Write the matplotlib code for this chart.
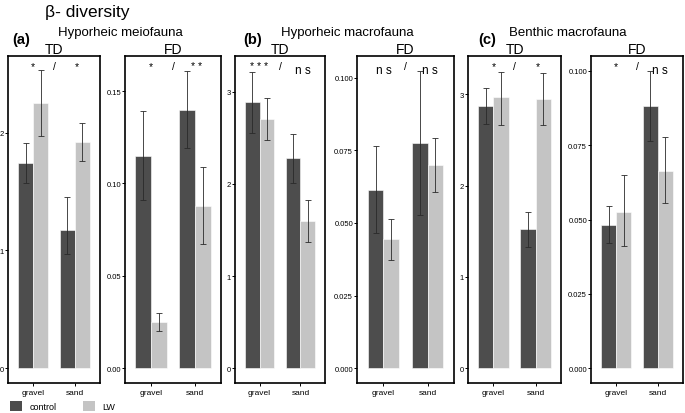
import numpy as np
import matplotlib
matplotlib.use('Agg')
import matplotlib.pyplot as plt
from matplotlib.patches import Patch
from matplotlib.ticker import FormatStrFormatter

plt.rcParams['font.family'] = ['Liberation Sans', 'DejaVu Sans']

habitats = ['gravel', 'sand']
panel_titles = ['TD', 'FD', 'TD', 'FD', 'TD', 'FD']
group_labels = ['(a)', '(b)', '(c)']
group_names = ['Hyporheic meiofauna', 'Hyporheic macrofauna', 'Benthic macrofauna']

# per panel: [gravel, sand]
control_mean = [[1.74, 1.17], [0.115, 0.140], [2.89, 2.28],
                [0.0612, 0.0775], [2.87, 1.52], [0.048, 0.0882]]
control_lo = [[1.57, 0.97], [0.091, 0.119], [2.55, 2.01],
              [0.0467, 0.0529], [2.68, 1.33], [0.0422, 0.0764]]
control_hi = [[1.91, 1.45], [0.139, 0.161], [3.22, 2.54],
              [0.0764, 0.1024], [3.07, 1.71], [0.0544, 0.100]]
lw_mean = [[2.25, 1.92], [0.025, 0.088], [2.71, 1.60],
           [0.0446, 0.0698], [2.97, 2.95], [0.0525, 0.0662]]
lw_lo = [[1.97, 1.76], [0.020, 0.067], [2.48, 1.37],
         [0.0373, 0.0605], [2.66, 2.66], [0.041, 0.0554]]
lw_hi = [[2.53, 2.08], [0.030, 0.109], [2.93, 1.83],
         [0.0515, 0.0792], [3.25, 3.23], [0.065, 0.0777]]

signif = [['*', '/', '*'], ['*', '/', '* *'], ['* * *', '/', 'n s'],
          ['n s', '/', 'n s'], ['*', '/', '*'], ['*', '/', 'n s']]

yticks = [[0, 1, 2], [0, 0.05, 0.10, 0.15], [0, 1, 2, 3],
          [0, 0.025, 0.05, 0.075, 0.1], [0, 1, 2, 3],
          [0, 0.025, 0.05, 0.075, 0.1]]
ytick_fmt = ['%d', '%.2f', '%d', '%.3f', '%d', '%.3f']
ytops = [2.65, 0.169, 3.39, 0.1075, 3.42, 0.105]

dark = '#4d4d4d'
light = '#c4c4c4'

W, H = 685, 414
fig = plt.figure(figsize=(W / 100, H / 100), dpi=100)

# pixel boxes (left, right) of the six panels
lefts = [8, 125, 235, 357, 468, 591]
rights = [100, 221, 325, 454, 561, 683]
top_px, bot_px = 57, 384

x = np.arange(1, len(habitats) + 1)
bw = 0.36

for i in range(6):
    ax = fig.add_axes([lefts[i] / W, (H - bot_px) / H,
                       (rights[i] - lefts[i]) / W, (bot_px - top_px) / H])
    ax.bar(x - bw / 2, control_mean[i], bw, color=dark, edgecolor='white', linewidth=0.4)
    ax.bar(x + bw / 2, lw_mean[i], bw, color=light, edgecolor='white', linewidth=0.4)
    for xs, m, lo, hi in [(x - bw / 2, control_mean[i], control_lo[i], control_hi[i]),
                          (x + bw / 2, lw_mean[i], lw_lo[i], lw_hi[i])]:
        m = np.array(m)
        err = [m - np.array(lo), np.array(hi) - m]
        ax.errorbar(xs, m, yerr=err, fmt='none', ecolor='#2a2a2a',
                    elinewidth=0.6, capsize=2.5, capthick=0.6)
    ax.set_xlim(0.4, 2.6)
    ax.set_ylim(-ytops[i] / 21, ytops[i])
    ax.set_xticks(x)
    ax.set_xticklabels(habitats, fontsize=6)
    ax.set_yticks(yticks[i])
    ax.yaxis.set_major_formatter(FormatStrFormatter(ytick_fmt[i]))
    ax.tick_params(axis='x', labelsize=6, length=2.5, width=0.7, pad=1.5)
    ax.tick_params(axis='y', labelsize=5.5, length=2, width=0.7, pad=0.8)
    for s in ax.spines.values():
        s.set_linewidth(1.2)
    ax.set_title(panel_titles[i], fontsize=10, pad=1.5)
    sx = [1.0, 1.5, 2.05]
    for k, t in enumerate(signif[i]):
        fs = 8.5 if t == 'n s' else 7.5
        ax.text(sx[k], 0.985 if t != 'n s' else 0.975, t, transform=ax.get_xaxis_transform(),
                ha='center', va='top', fontsize=fs)

# group headers
label_x = [12, 243, 478]
name_x = [120, 347, 568]
for g in range(3):
    fig.text(label_x[g] / W, 1 - 40 / H, group_labels[g], fontsize=10.5,
             fontweight='bold', ha='left', va='center')
    fig.text(name_x[g] / W, 1 - 33 / H, group_names[g], fontsize=9.5,
             ha='center', va='center')

fig.text(45 / W, 1 - 12 / H, 'β- diversity', fontsize=12.5, ha='left', va='center')

handles = [Patch(facecolor=dark, label='control'), Patch(facecolor=light, label='LW')]
fig.legend(handles=handles, loc='lower left', bbox_to_anchor=(0.003, -0.015),
           ncol=2, frameon=False, fontsize=6.5, handlelength=1.3, handleheight=1.3,
           columnspacing=3.0, handletextpad=0.8)

fig.savefig('out.png', dpi=100)
